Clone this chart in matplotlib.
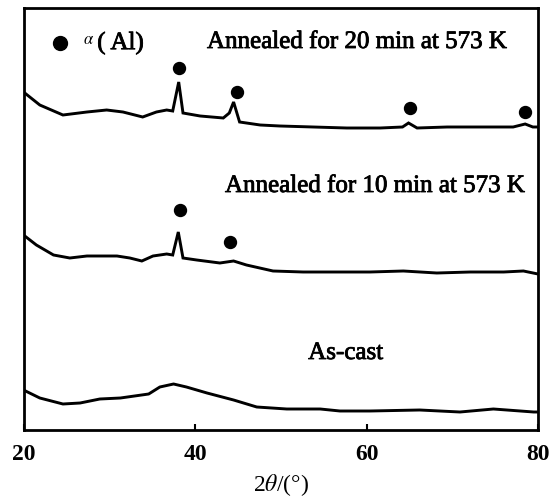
import matplotlib
matplotlib.use('Agg')
import matplotlib.pyplot as plt
import matplotlib.patheffects as pe

plt.rcParams['font.family'] = ['Liberation Serif', 'DejaVu Serif']
plt.rcParams['mathtext.fontset'] = 'stix'

# ---- data (2theta in degrees, intensity in arbitrary units, curves offset) ----
tt_20min = [20.0, 21.9, 24.6, 27.4, 29.7, 31.6, 33.9, 35.5, 36.7, 37.4, 38.1, 38.6,
            40.6, 43.3, 44.0, 44.5, 45.2, 47.6, 49.9, 53.8, 57.7, 61.6, 64.2, 64.9,
            65.9, 69.4, 73.2, 77.1, 78.5, 79.4, 80.0]
int_20min = [338, 325, 315, 318, 320, 318, 313, 318, 320, 319, 348, 317,
             314, 312, 317, 328, 308, 305, 304, 303, 302, 302, 303, 307,
             302, 303, 303, 303, 306, 303, 303]

tt_10min = [20.0, 21.5, 23.5, 25.4, 27.4, 30.9, 32.4, 33.8, 35.1, 36.7, 37.4, 38.05,
            38.6, 40.2, 42.9, 44.5, 46.0, 49.1, 52.6, 56.5, 60.4, 64.3, 68.2, 72.1,
            76.0, 78.3, 80.0]
int_10min = [195, 185, 175, 172, 174, 174, 172, 169, 174, 176, 175, 198,
             172, 170, 167, 169, 165, 159, 158, 158, 158, 159, 157, 158,
             158, 159, 156]

tt_cast = [20.0, 21.9, 24.6, 26.6, 28.9, 31.3, 34.6, 35.9, 37.5, 39.0, 41.4, 44.5,
           47.2, 50.7, 54.6, 56.9, 60.4, 66.2, 70.9, 74.8, 79.5, 80.0]
int_cast = [40, 32, 26, 27, 31, 32, 36, 43, 46, 43, 37, 30,
            23, 21, 21, 19, 19, 20, 18, 21, 18, 18]

# alpha(Al) peak markers
mark_20_x = [38.1, 44.9, 65.1, 78.5]
mark_20_y = [362, 338, 322, 318]
mark_10_x = [38.25, 44.1]
mark_10_y = [220, 188]

labels = ['Annealed for 20 min at 573 K', 'Annealed for 10 min at 573 K', 'As-cast']
xticks = [20, 40, 60, 80]

fig = plt.figure(figsize=(5.53, 4.97), dpi=100)
ax = fig.add_axes([23.5/553, 1 - 430/497, (538 - 23.5)/553, (430 - 8)/497])

lw = 2.1
ax.plot(tt_20min, int_20min, color='black', lw=lw, solid_joinstyle='miter')
ax.plot(tt_10min, int_10min, color='black', lw=lw, solid_joinstyle='miter')
ax.plot(tt_cast, int_cast, color='black', lw=lw)

ax.plot(mark_20_x, mark_20_y, 'o', color='black', ms=8.6, ls='none')
ax.plot(mark_10_x, mark_10_y, 'o', color='black', ms=8.6, ls='none')

heavy = [pe.withStroke(linewidth=0.6, foreground='black')]

# legend-like annotation
ax.plot([24.3], [387], 'o', color='black', ms=10, clip_on=False)
ax.text(26.9, 390, r'$\alpha$', fontsize=12, va='center', ha='left')
ax.text(28.6, 387, '( Al)', fontsize=18, va='center', ha='left', path_effects=heavy)

ax.text(41.4, 388, labels[0], fontsize=18, va='center', ha='left', path_effects=heavy)
ax.text(43.5, 244, labels[1], fontsize=18, va='center', ha='left', path_effects=heavy)
ax.text(53.2, 77, labels[2], fontsize=18, va='center', ha='left', path_effects=heavy)

ax.set_xlim(20, 80)
ax.set_ylim(0, 422)
ax.set_yticks([])
ax.set_xticks(xticks)
ax.set_xticklabels([str(t) for t in xticks], fontsize=17, fontweight='bold')
ax.tick_params(axis='x', direction='in', length=4, width=1.5, pad=10)
for s in ax.spines.values():
    s.set_linewidth(2)

ax.set_xlabel(r'2$\theta$/(°)', fontsize=17, labelpad=5)

fig.savefig('out.png', dpi=100)
